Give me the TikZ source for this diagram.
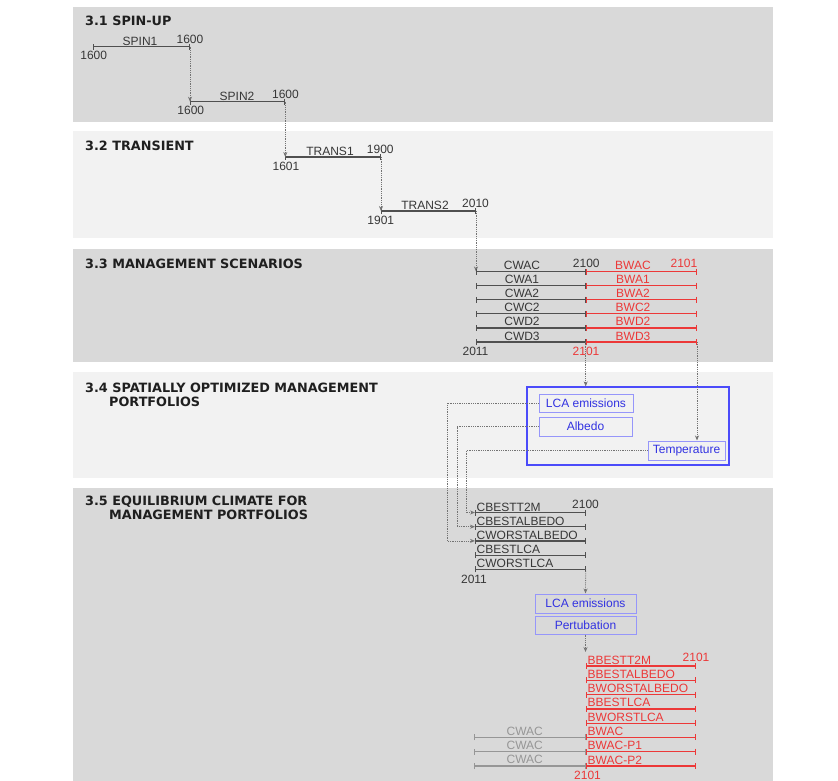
\documentclass[tikz,border=0pt]{standalone}
\usepackage{fontspec}
\setmainfont{Liberation Sans}
\newfontfamily\ttlfamily{DejaVu Sans}
\usetikzlibrary{arrows.meta,calc}
\definecolor{bandD}{RGB}{217,217,217}
\definecolor{bandL}{RGB}{242,242,242}
\definecolor{tlgray}{RGB}{80,80,80}
\definecolor{tltext}{RGB}{55,55,55}
\definecolor{tlred}{RGB}{236,56,56}
\definecolor{cwgray}{RGB}{150,150,150}
\definecolor{flowgray}{RGB}{115,115,115}
\definecolor{boxblue}{RGB}{75,75,250}
\definecolor{boxlight}{RGB}{150,150,250}
\definecolor{txtblue}{RGB}{50,50,225}
\newcommand{\labfont}{\fontsize{12}{14}\selectfont}
\newcommand{\ttlfont}{\ttlfamily\bfseries\fontsize{12.8}{14}\selectfont}
\tikzset{
  ttl/.style={anchor=base west,inner sep=0pt,font=\ttlfont,text=black!88},
  lab/.style={anchor=base,inner sep=0pt,font=\labfont,text=tltext},
  labw/.style={lab,anchor=base west},
  tl/.style={draw=tlgray,line width=1.2pt,{Bar[width=6pt,line width=1pt]}-{Bar[width=6pt,line width=1pt]}},
  tlr/.style={tl,draw=tlred},
  tlg/.style={tl,draw=cwgray},
  flow/.style={draw=flowgray,densely dotted,line width=.8pt,-{Stealth[length=5pt,width=4pt]}},
  box/.style={draw=boxlight,line width=1pt,text=txtblue,font=\labfont,inner sep=0pt,minimum height=18pt}
}

\begin{document}
\begin{tikzpicture}[x=1pt,y=-1pt]
  \useasboundingbox (0,0) rectangle (838,781);

  % bands
  \fill[bandD] (73,7.5) rectangle (773,122);
  \fill[bandL] (73,131) rectangle (773,237.5);
  \fill[bandD] (73,248.5) rectangle (773,361.5);
  \fill[bandL] (73,372) rectangle (773,478);
  \fill[bandD] (73,487.5) rectangle (773,781);

  \node[ttl] (t31) at (85,26) {3.1 SPIN-UP};
  \node[ttl] (t32) at (85,150) {3.2 TRANSIENT};
  \node[ttl] (t33) at (85,268) {3.3 MANAGEMENT SCENARIOS};
  \node[ttl] (t34a) at (85,392) {3.4 SPATIALLY OPTIMIZED MANAGEMENT};
  \node[ttl] (t34b) at (109,406) {PORTFOLIOS};
  \node[ttl] (t35a) at (85,505) {3.5 EQUILIBRIUM CLIMATE FOR};
  \node[ttl] (t35b) at (109,519) {MANAGEMENT PORTFOLIOS};

  % spin-up and transient
  \coordinate (spin1-s) at (92.7,46.7);
  \coordinate (spin1-e) at (190,46.7);
  \coordinate (spin2-s) at (190,101.7);
  \coordinate (spin2-e) at (285.3,101.7);
  \coordinate (trans1-s) at (285.3,157);
  \coordinate (trans1-e) at (381,157);
  \coordinate (trans2-s) at (381,211);
  \coordinate (trans2-e) at (476,211);

  \draw[tl] (spin1-s) -- (spin1-e);
  \draw[tl] (spin2-s) -- (spin2-e);
  \draw[tl] (trans1-s) -- (trans1-e);
  \draw[tl] (trans2-s) -- (trans2-e);

  \node[lab] (spin1) at (140,45.2) {SPIN1};
  \node[lab] (spin1-y0) at (93.7,60) {1600};
  \node[lab] (spin1-y1) at (190,43.3) {1600};
  \node[lab] (spin2) at (237,100.2) {SPIN2};
  \node[lab] (spin2-y0) at (190.8,115) {1600};
  \node[lab] (spin2-y1) at (285.5,98.3) {1600};
  \node[lab] (trans1) at (330,155.5) {TRANS1};
  \node[lab] (trans1-y0) at (286,170.3) {1601};
  \node[lab] (trans1-y1) at (380.3,153.6) {1900};
  \node[lab] (trans2) at (425,209.5) {TRANS2};
  \node[lab] (trans2-y0) at (380.8,224.3) {1901};
  \node[lab] (trans2-y1) at (475.5,207.6) {2010};

  \draw[flow] (spin1-e) -- (spin2-s);
  \draw[flow] (spin2-e) -- (trans1-s);
  \draw[flow] (trans1-e) -- (trans2-s);

  % management scenarios
  \coordinate (cwac-s) at (476,271.5);   \coordinate (cwac-m) at (585.7,271.5);   \coordinate (bwac-e) at (697,271.5);
  \coordinate (cwa1-s) at (476,285.6);   \coordinate (cwa1-m) at (585.7,285.6);   \coordinate (bwa1-e) at (697,285.6);
  \coordinate (cwa2-s) at (476,299.7);   \coordinate (cwa2-m) at (585.7,299.7);   \coordinate (bwa2-e) at (697,299.7);
  \coordinate (cwc2-s) at (476,313.8);   \coordinate (cwc2-m) at (585.7,313.8);   \coordinate (bwc2-e) at (697,313.8);
  \coordinate (cwd2-s) at (476,327.9);   \coordinate (cwd2-m) at (585.7,327.9);   \coordinate (bwd2-e) at (697,327.9);
  \coordinate (cwd3-s) at (476,342);     \coordinate (cwd3-m) at (585.7,342);     \coordinate (bwd3-e) at (697,342);

  \draw[flow] (trans2-e) -- (cwac-s);

  \draw[tl] (cwac-s) -- (cwac-m);  \draw[tlr] (cwac-m) -- (bwac-e);
  \draw[tl] (cwa1-s) -- (cwa1-m);  \draw[tlr] (cwa1-m) -- (bwa1-e);
  \draw[tl] (cwa2-s) -- (cwa2-m);  \draw[tlr] (cwa2-m) -- (bwa2-e);
  \draw[tl] (cwc2-s) -- (cwc2-m);  \draw[tlr] (cwc2-m) -- (bwc2-e);
  \draw[tl] (cwd2-s) -- (cwd2-m);  \draw[tlr] (cwd2-m) -- (bwd2-e);
  \draw[tl] (cwd3-s) -- (cwd3-m);  \draw[tlr] (cwd3-m) -- (bwd3-e);

  \node[lab] (cwac) at (522,269.5) {CWAC};  \node[lab,text=tlred] (bwac) at (633,269.5) {BWAC};
  \node[lab] (cwa1) at (522,283.6) {CWA1};  \node[lab,text=tlred] (bwa1) at (633,283.6) {BWA1};
  \node[lab] (cwa2) at (522,297.7) {CWA2};  \node[lab,text=tlred] (bwa2) at (633,297.7) {BWA2};
  \node[lab] (cwc2) at (522,311.8) {CWC2};  \node[lab,text=tlred] (bwc2) at (633,311.8) {BWC2};
  \node[lab] (cwd2) at (522,325.9) {CWD2};  \node[lab,text=tlred] (bwd2) at (633,325.9) {BWD2};
  \node[lab] (cwd3) at (522,340) {CWD3};    \node[lab,text=tlred] (bwd3) at (633,340) {BWD3};

  \node[lab] (scen-y1) at (586.3,267.5) {2100};
  \node[lab,anchor=base east,text=tlred] (scen-y2) at (697.5,267.5) {2101};
  \node[lab] (scen-y0) at (475.5,355) {2011};
  \node[lab,text=tlred] (scen-y3) at (586,355) {2101};

  % optimized portfolios
  \node[draw=boxblue,line width=1.2pt,minimum width=202pt,minimum height=78pt,inner sep=0pt] (portf) at (628,426) {};
  \node[box,minimum width=94pt] (lca1) at (586,403) {LCA emissions};
  \node[box,minimum width=93pt,minimum height=19pt] (albedo) at (585.5,426.5) {Albedo};
  \node[box,minimum width=77pt,minimum height=19pt] (temp) at (686.5,450.5) {Temperature};

  \draw[flow] (cwd3-m) -- (cwd3-m |- portf.north);
  \draw[flow] (bwd3-e) -- (bwd3-e |- temp.north);

  % equilibrium climate
  \coordinate (cbt2m-s) at (475,512.5);  \coordinate (cbt2m-e) at (585.7,512.5);
  \coordinate (cbalb-s) at (475,526.7);  \coordinate (cbalb-e) at (585.7,526.7);
  \coordinate (cwalb-s) at (475,540.9);  \coordinate (cwalb-e) at (585.7,540.9);
  \coordinate (cblca-s) at (475,555.1);  \coordinate (cblca-e) at (585.7,555.1);
  \coordinate (cwlca-s) at (475,569.3);  \coordinate (cwlca-e) at (585.7,569.3);

  \draw[flow] (temp.west) -| ($(cbt2m-s)+(-9,0)$) -- (cbt2m-s);
  \draw[flow] (albedo.west) -| ($(cbalb-s)+(-18,0)$) -- (cbalb-s);
  \draw[flow] (lca1.west) -| ($(cwalb-s)+(-28,0)$) -- (cwalb-s);

  \draw[tl] (cbt2m-s) -- (cbt2m-e);
  \draw[tl] (cbalb-s) -- (cbalb-e);
  \draw[tl] (cwalb-s) -- (cwalb-e);
  \draw[tl] (cblca-s) -- (cblca-e);
  \draw[tl] (cwlca-s) -- (cwlca-e);

  \node[labw] (cbt2m) at (476.5,511) {CBESTT2M};
  \node[labw] (cbalb) at (476.5,525.2) {CBESTALBEDO};
  \node[labw] (cwalb) at (476.5,539.4) {CWORSTALBEDO};
  \node[labw] (cblca) at (476.5,553.6) {CBESTLCA};
  \node[labw] (cwlca) at (476.5,567.8) {CWORSTLCA};
  \node[lab] (eq-y1) at (585.5,508.5) {2100};
  \node[lab] (eq-y0) at (474,583.3) {2011};

  \node[box,minimum width=101pt,minimum height=19pt] (lca2) at (585.5,603.5) {LCA emissions};
  \node[box,minimum width=101pt] (pert) at (585.5,625) {Pertubation};
  \coordinate (pert-arr) at (585.5,652);
  \draw[flow] (cwlca-e) -- (lca2.north);
  \draw[flow] (pert.south) -- (pert-arr);

  \coordinate (bbt2m-s) at (586,666);    \coordinate (bbt2m-e) at (696,666);
  \coordinate (bbalb-s) at (586,680.3);  \coordinate (bbalb-e) at (696,680.3);
  \coordinate (bwalb-s) at (586,694.6);  \coordinate (bwalb-e) at (696,694.6);
  \coordinate (bblca-s) at (586,708.9);  \coordinate (bblca-e) at (696,708.9);
  \coordinate (bwlca-s) at (586,723.2);  \coordinate (bwlca-e) at (696,723.2);
  \coordinate (bwac2-s) at (586,737.4);  \coordinate (bwac2-e) at (696,737.4);
  \coordinate (bwp1-s) at (586,751.7);   \coordinate (bwp1-e) at (696,751.7);
  \coordinate (bwp2-s) at (586,766);     \coordinate (bwp2-e) at (696,766);
  \coordinate (cwg1-s) at (474,737.4);
  \coordinate (cwg2-s) at (474,751.7);
  \coordinate (cwg3-s) at (474,766);

  \draw[tlg] (cwg1-s) -- (bwac2-s);
  \draw[tlg] (cwg2-s) -- (bwp1-s);
  \draw[tlg] (cwg3-s) -- (bwp2-s);

  \draw[tlr] (bbt2m-s) -- (bbt2m-e);
  \draw[tlr] (bbalb-s) -- (bbalb-e);
  \draw[tlr] (bwalb-s) -- (bwalb-e);
  \draw[tlr] (bblca-s) -- (bblca-e);
  \draw[tlr] (bwlca-s) -- (bwlca-e);
  \draw[tlr] (bwac2-s) -- (bwac2-e);
  \draw[tlr] (bwp1-s) -- (bwp1-e);
  \draw[tlr] (bwp2-s) -- (bwp2-e);

  \node[labw,text=tlred] (bbt2m) at (587.5,664) {BBESTT2M};
  \node[labw,text=tlred] (bbalb) at (587.5,678.3) {BBESTALBEDO};
  \node[labw,text=tlred] (bwalb) at (587.5,692.6) {BWORSTALBEDO};
  \node[labw,text=tlred] (bblca) at (587.5,706.9) {BBESTLCA};
  \node[labw,text=tlred] (bwlca) at (587.5,721.2) {BWORSTLCA};
  \node[labw,text=tlred] (bwac2) at (587.5,735.4) {BWAC};
  \node[labw,text=tlred] (bwp1) at (587.5,749.7) {BWAC-P1};
  \node[labw,text=tlred] (bwp2) at (587.5,764) {BWAC-P2};
  \node[lab,text=cwgray] (cwg1) at (524.7,735) {CWAC};
  \node[lab,text=cwgray] (cwg2) at (524.7,749.3) {CWAC};
  \node[lab,text=cwgray] (cwg3) at (524.7,763.6) {CWAC};
  \node[lab,text=tlred] (bw-y1) at (696,661) {2101};
  \node[lab,text=tlred] (bw-y0) at (587.5,779) {2101};
\end{tikzpicture}
\end{document}
